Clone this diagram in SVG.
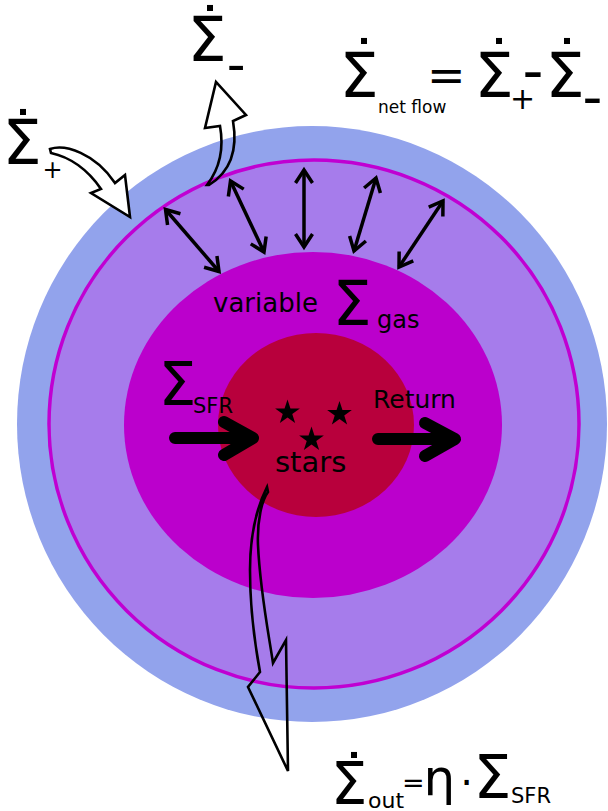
<svg xmlns="http://www.w3.org/2000/svg" width="608" height="811" viewBox="0 0 608 811">
<style>
text{font-family:"DejaVu Sans","Liberation Sans",sans-serif;fill:#000}
.dot{font-size:60px;text-anchor:middle}
.dbl{stroke:#000;stroke-width:3.5;fill:none;marker-start:url(#ah);marker-end:url(#ah)}
.thick{stroke:#000;stroke-width:12;fill:none;stroke-linecap:round;stroke-linejoin:round}
.hollow{stroke:#000;stroke-width:2.6;stroke-linejoin:miter}
</style>
<defs>
<marker id="ah" markerUnits="userSpaceOnUse" markerWidth="40" markerHeight="40" viewBox="-20 -20 40 40" refX="0" refY="0" orient="auto-start-reverse" overflow="visible">
<path d="M-13,-8.5 L0,0 L-13,8.5" fill="none" stroke="#000" stroke-width="3.5"/>
</marker>
<polygon id="star" points="0,-13 2.94,-4.05 12.36,-4.02 4.76,1.55 7.64,10.52 0,5 -7.64,10.52 -4.76,1.55 -12.36,-4.02 -2.94,-4.05"/>
</defs>
<rect width="608" height="811" fill="#fff"/>
<g id="halo"><ellipse cx="312" cy="424" rx="295" ry="298" fill="#92a3ec"/></g>
<g id="disk"><ellipse cx="314" cy="424" rx="265" ry="264" fill="#a67ceb" stroke="#c000d2" stroke-width="3.5"/></g>
<g id="gas"><ellipse cx="313" cy="425" rx="189" ry="173" fill="#bb00cc"/></g>
<g id="stars"><ellipse cx="316" cy="425" rx="98" ry="92" fill="#b8003c"/>
<use href="#star" x="287.5" y="412.5"/>
<use href="#star" x="339.5" y="414"/>
<use href="#star" x="311.5" y="439.5"/>
<text x="275" y="472" font-size="29">stars</text>
</g>
<g id="labels">
<text x="213" y="312" font-size="26">variable</text>
<text x="332.5" y="325" font-size="62">Σ</text>
<text x="377" y="328" font-size="24">gas</text>
<text x="158.5" y="405" font-size="60">Σ</text>
<text x="193" y="413" font-size="21">SFR</text>
<text x="373" y="408" font-size="25">Return</text>
</g>
<g id="inflow-label">
<text x="2.5" y="164" font-size="62">Σ</text>
<text class="dot" x="23" y="154.6">˙</text>
<text x="42.4" y="177.5" font-size="24">+</text>
</g>
<g id="outflow-label">
<text x="187.5" y="61" font-size="62">Σ</text>
<text class="dot" x="210" y="50.6">˙</text>
<text x="226.7" y="81.7" font-size="52">-</text>
</g>
<g id="net-flow-equation">
<text x="339.5" y="97" font-size="62">Σ</text>
<text class="dot" x="364" y="83.6">˙</text>
<text x="378" y="113" font-size="17">net flow</text>
<text x="427" y="91" font-size="46">=</text>
<text x="474.5" y="97" font-size="62">Σ</text>
<text class="dot" x="499" y="83.6">˙</text>
<text x="510" y="108.5" font-size="30">+</text>
<text x="522.4" y="91.4" font-size="58">-</text>
<text x="545.5" y="97" font-size="62">Σ</text>
<text class="dot" x="567" y="83.6">˙</text>
<text x="582.6" y="115.5" font-size="55">-</text>
</g>
<g id="outflow-equation">
<text x="330.8" y="804" font-size="58">Σ</text>
<text class="dot" x="354" y="797.6">˙</text>
<text x="368" y="808" font-size="22">out</text>
<text x="402" y="791.7" font-size="27">=</text>
<text x="423.5" y="795" font-size="50">η</text>
<text x="466.5" y="797" font-size="40" text-anchor="middle">·</text>
<text x="473.6" y="798" font-size="60">Σ</text>
<text x="511" y="803" font-size="21">SFR</text>
</g>
<g id="connectors">
<line class="dbl" x1="165.5" y1="209.5" x2="219" y2="271.5"/>
<line class="dbl" x1="230.5" y1="181" x2="264" y2="252"/>
<line class="dbl" x1="304" y1="170" x2="304" y2="247"/>
<line class="dbl" x1="376" y1="178" x2="354" y2="251"/>
<line class="dbl" x1="443" y1="201" x2="399" y2="267"/>
<path class="thick" d="M175,438 H250 M224,422 L253,438 L224,455"/>
<path class="thick" d="M378,439 H452 M425,423 L455,439 L425,456"/>
<path class="hollow" fill="#fff" d="M50,149 C65,144 95,153 115,183 L125,175 L130,217 L91,193 L101,189 C88,170 70,157 51,153 Z"/>
<path class="hollow" fill="none" d="M207,185 C220,168 224,148 220,126 L205,128 L216,82 L246,115 L233,121 C238,150 230,172 209,185 Z"/>
<path class="hollow" fill="none" stroke-width="3.5" d="M267,487 C258,505 250,530 250,570 C250,610 255,645 260,672 L248,687 L288,771 L286,640 L273,663 C268,630 260,590 258,545 C257,520 262,500 268,492 Z"/>
</g>
</svg>
